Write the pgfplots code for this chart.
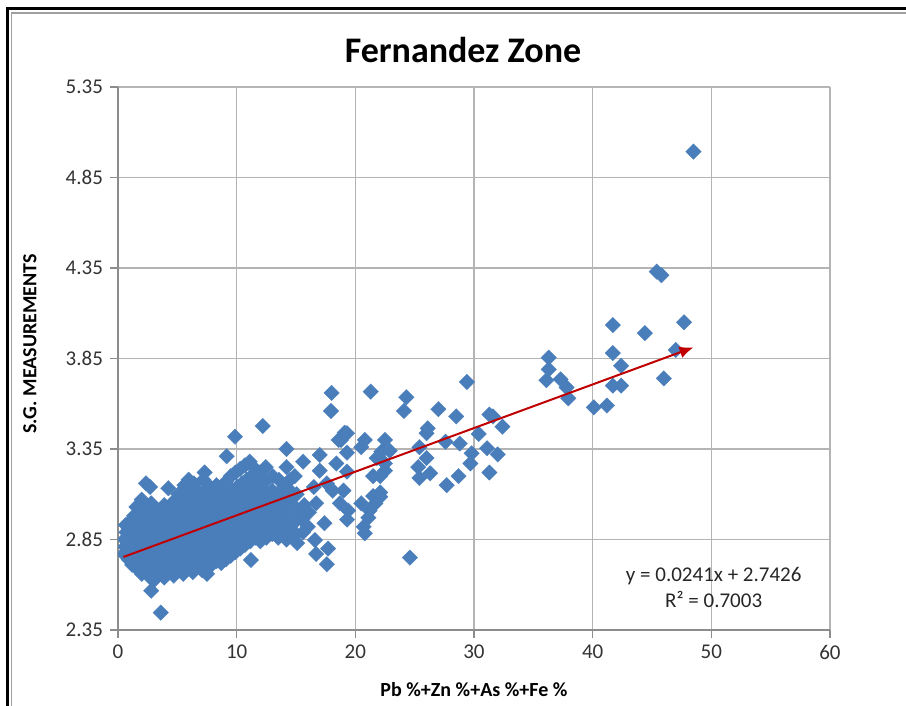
\documentclass[border=0pt]{standalone}
\usepackage{fontspec}
\setmainfont{Carlito}
\usepackage{pgfplots}
\pgfplotsset{compat=1.18}
\usetikzlibrary{arrows.meta}
\definecolor{sgblue}{HTML}{4A7EBB}
\definecolor{trendred}{HTML}{C00000}
\definecolor{gridgray}{HTML}{B4B4B4}
\definecolor{axisgray}{HTML}{8C8C8C}

\pgfplotstableread{
x y
0.5 2.77
0.6 2.81
0.55 2.85
0.7 2.89
0.65 2.93
0.9 2.74
0.95 2.79
0.85 2.83
1.0 2.87
0.9 2.91
1.05 2.95
1.2 2.71
1.3 2.76
1.25 2.81
1.15 2.86
1.3 2.90
1.2 2.94
1.35 2.98
1.6 2.69
1.7 2.74
1.55 2.79
1.65 2.85
1.6 2.89
1.75 2.93
1.7 2.99
1.55 3.03
2.0 2.66
2.1 2.71
1.95 2.77
2.05 2.82
2.1 2.87
1.95 2.91
2.05 2.96
2.15 3.02
2.0 3.07
2.36 3.16
2.4 2.68
2.35 2.74
2.45 2.80
2.3 2.86
2.4 2.92
2.5 2.98
2.7 2.64
2.75 2.70
2.65 2.76
2.8 2.83
2.7 2.88
2.75 2.94
2.6 3.00
2.8 3.05
2.7 3.14
2.8 2.567
3.1 2.63
3.15 2.69
3.05 2.74
3.2 2.80
3.1 2.85
3.15 2.90
3.0 2.96
3.2 3.02
3.5 2.66
3.45 2.72
3.55 2.78
3.5 2.84
3.6 2.89
3.4 2.95
3.55 3.00
3.6 2.446
3.9 2.64
3.95 2.70
3.85 2.76
4.0 2.82
3.9 2.87
3.95 2.93
4.05 2.98
3.9 3.04
4.24 3.133
4.3 2.67
4.35 2.73
4.25 2.79
4.4 2.85
4.3 2.91
4.35 2.97
4.4 3.02
4.7 2.65
4.75 2.71
4.65 2.77
4.8 2.83
4.7 2.88
4.75 2.94
4.85 3.00
4.7 3.06
5.1 2.68
5.15 2.74
5.05 2.80
5.2 2.86
5.1 2.92
5.15 2.98
5.25 3.04
5.1 3.10
5.5 2.66
5.55 2.72
5.45 2.78
5.6 2.84
5.5 2.90
5.55 2.96
5.65 3.02
5.5 3.08
5.6 3.15
5.9 2.69
5.95 2.75
5.85 2.81
6.0 2.87
5.9 2.93
5.95 2.99
6.05 3.05
5.9 3.12
5.95 3.18
6.3 2.67
6.35 2.73
6.25 2.79
6.4 2.85
6.3 2.91
6.35 2.97
6.45 3.03
6.3 3.09
6.4 3.16
6.7 2.70
6.75 2.76
6.65 2.82
6.8 2.88
6.7 2.94
6.75 3.00
6.85 3.06
6.7 3.12
7.1 2.68
7.15 2.74
7.05 2.80
7.2 2.86
7.1 2.92
7.15 2.98
7.25 3.04
7.1 3.10
7.2 3.18
7.3 3.22
7.5 2.66
7.55 2.72
7.45 2.78
7.6 2.84
7.5 2.90
7.55 2.96
7.65 3.02
7.5 3.08
7.6 3.15
7.9 2.71
7.95 2.77
7.85 2.83
8.0 2.89
7.9 2.95
7.95 3.01
8.05 3.07
7.9 3.13
8.3 2.73
8.35 2.79
8.25 2.85
8.4 2.91
8.3 2.97
8.35 3.03
8.45 3.09
8.3 3.15
8.7 2.72
8.75 2.78
8.65 2.84
8.8 2.90
8.7 2.96
8.75 3.02
8.85 3.08
8.7 3.14
9.1 2.74
9.15 2.80
9.05 2.86
9.2 2.92
9.1 2.98
9.15 3.04
9.25 3.10
9.1 3.17
9.16 3.31
9.5 2.76
9.55 2.82
9.45 2.88
9.6 2.94
9.5 3.00
9.55 3.06
9.65 3.12
9.5 3.20
9.86 3.418
9.9 2.78
9.95 2.84
9.85 2.90
10.0 2.96
9.9 3.02
9.95 3.08
10.05 3.14
9.9 3.22
10.3 2.80
10.35 2.86
10.25 2.92
10.4 2.98
10.3 3.04
10.35 3.10
10.45 3.16
10.3 3.24
10.7 2.82
10.75 2.88
10.65 2.94
10.8 3.00
10.7 3.06
10.75 3.12
10.85 3.18
10.7 3.26
11.2 2.737
11.15 2.84
11.25 2.90
11.1 2.96
11.2 3.02
11.3 3.08
11.15 3.14
11.25 3.20
11.1 3.28
11.6 2.86
11.65 2.92
11.55 2.98
11.7 3.04
11.6 3.10
11.65 3.16
11.55 3.24
12.0 2.84
12.05 2.90
11.95 2.96
12.1 3.02
12.0 3.08
12.05 3.14
11.95 3.22
12.2 3.477
12.5 2.86
12.55 2.92
12.45 2.98
12.6 3.04
12.5 3.10
12.55 3.18
12.45 3.25
13.0 2.88
13.05 2.94
12.95 3.00
13.1 3.06
13.0 3.12
13.05 3.20
13.5 2.86
13.55 2.92
13.45 2.98
13.6 3.04
13.5 3.10
13.55 3.18
14.0 2.88
14.05 2.95
13.95 3.02
14.1 3.08
14.0 3.14
14.2 3.25
14.2 3.35
14.5 2.92
14.45 2.98
14.6 3.05
14.5 3.12
14.5 3.18
14.2 2.85
15.0 2.88
15.1 2.83
14.95 2.95
15.3 3.01
15.05 3.10
14.9 3.20
15.6 2.89
15.5 2.96
15.7 3.04
15.6 3.28
16.0 2.92
16.1 3.00
16.5 3.14
16.7 3.05
16.6 2.847
16.7 2.77
17.6 2.713
17.7 2.80
17.0 3.23
17.0 3.317
17.4 2.94
17.6 3.16
18.1 3.12
18.4 3.27
18.6 3.40
19.1 3.44
19.3 3.437
18.8 3.40
19.3 3.33
19.3 3.225
19.0 3.12
18.7 3.05
19.4 3.01
19.3 2.96
20.5 3.05
21.7 3.05
21.1 2.97
20.7 2.92
20.8 2.884
22.1 3.086
21.2 3.01
21.5 3.09
22.1 3.11
18.0 3.66
17.95 3.56
21.3 3.667
24.3 3.636
24.1 3.56
29.4 3.72
27.0 3.57
28.5 3.53
31.3 3.54
31.6 3.53
32.4 3.473
30.4 3.433
26.1 3.464
26.0 3.437
25.4 3.36
27.6 3.39
28.8 3.38
29.8 3.326
31.1 3.354
32.0 3.32
29.7 3.27
31.3 3.22
28.7 3.20
27.7 3.15
26.0 3.30
25.3 3.25
26.3 3.216
25.4 3.19
24.6 2.75
22.5 3.40
22.9 3.34
22.2 3.335
20.8 3.40
20.5 3.36
21.8 3.30
22.5 3.27
21.5 3.20
22.5 3.23
22.1 3.20
36.3 3.855
36.3 3.79
36.1 3.73
37.3 3.735
37.8 3.69
37.95 3.63
40.1 3.58
41.2 3.59
41.7 4.035
44.4 3.99
47.7 4.05
47.0 3.897
41.7 3.88
42.4 3.81
46.0 3.74
41.7 3.70
42.4 3.70
45.4 4.33
45.8 4.31
48.5 4.993
}\sgdata

\begin{document}
\begin{tikzpicture}
\path[use as bounding box] (0,0) rectangle (453pt,353pt);
% chart frame (cropped on the right and bottom)
\draw[line width=1.5pt] (3.85pt,0) -- (3.85pt,348.5pt) -- (453pt,348.5pt);
\draw[gray!75, line width=0.6pt] (5.8pt,0) -- (5.8pt,346.5pt) -- (453pt,346.5pt);
\node[font=\bfseries\fontsize{18}{21}\selectfont] at (231.5pt,328pt) {Fernandez Zone};
\begin{axis}[
    at={(59pt,38pt)}, anchor=south west,
    scale only axis, width=356pt, height=271.5pt,
    xmin=0, xmax=60, ymin=2.35, ymax=5.35,
    clip marker paths=true,
    xtick={0,10,...,60},
    ytick={2.35,2.85,3.35,3.85,4.35,4.85,5.35},
    yticklabel style={/pgf/number format/.cd, fixed, fixed zerofill, precision=2},
    /pgf/number format/assume math mode=true,
    axis lines=left, axis line style={axisgray, -, line width=0.6pt},
    grid=major, major grid style={gridgray, line width=0.6pt},
    tick align=outside, major tick length=4pt, tick style={axisgray, line width=0.6pt},
    tick label style={font=\fontsize{10.5}{12}\selectfont, text=black!80},
    xlabel={Pb \%+Zn \%+As \%+Fe \%},
    ylabel={S.G. MEASUREMENTS},
    label style={font=\bfseries\fontsize{10}{12}\selectfont},
    xlabel style={at={(axis description cs:0.5,-0.1105)}, anchor=center},
    ylabel style={at={(axis description cs:-0.1236,0.527)}, anchor=center, rotate=0},
]
\addplot[only marks, mark=square*, mark size=2.75pt,
    mark options={rotate=45, fill=sgblue, draw=sgblue, line width=0.1pt}]
    table[x=x, y=y] {\sgdata};
\addplot[trendred, line width=1pt, -{Latex[length=7pt,width=6pt]}]
    coordinates {(0.45,2.7534) (48.5,3.9115)};
\node[font=\fontsize{10.5}{12}\selectfont, text=black!85] at (axis cs:50.2,2.648) {y = 0.0241x + 2.7426};
\node[font=\fontsize{10.5}{12}\selectfont, text=black!85] at (axis cs:50.2,2.516) {R² = 0.7003};
\end{axis}
\end{tikzpicture}
\end{document}
